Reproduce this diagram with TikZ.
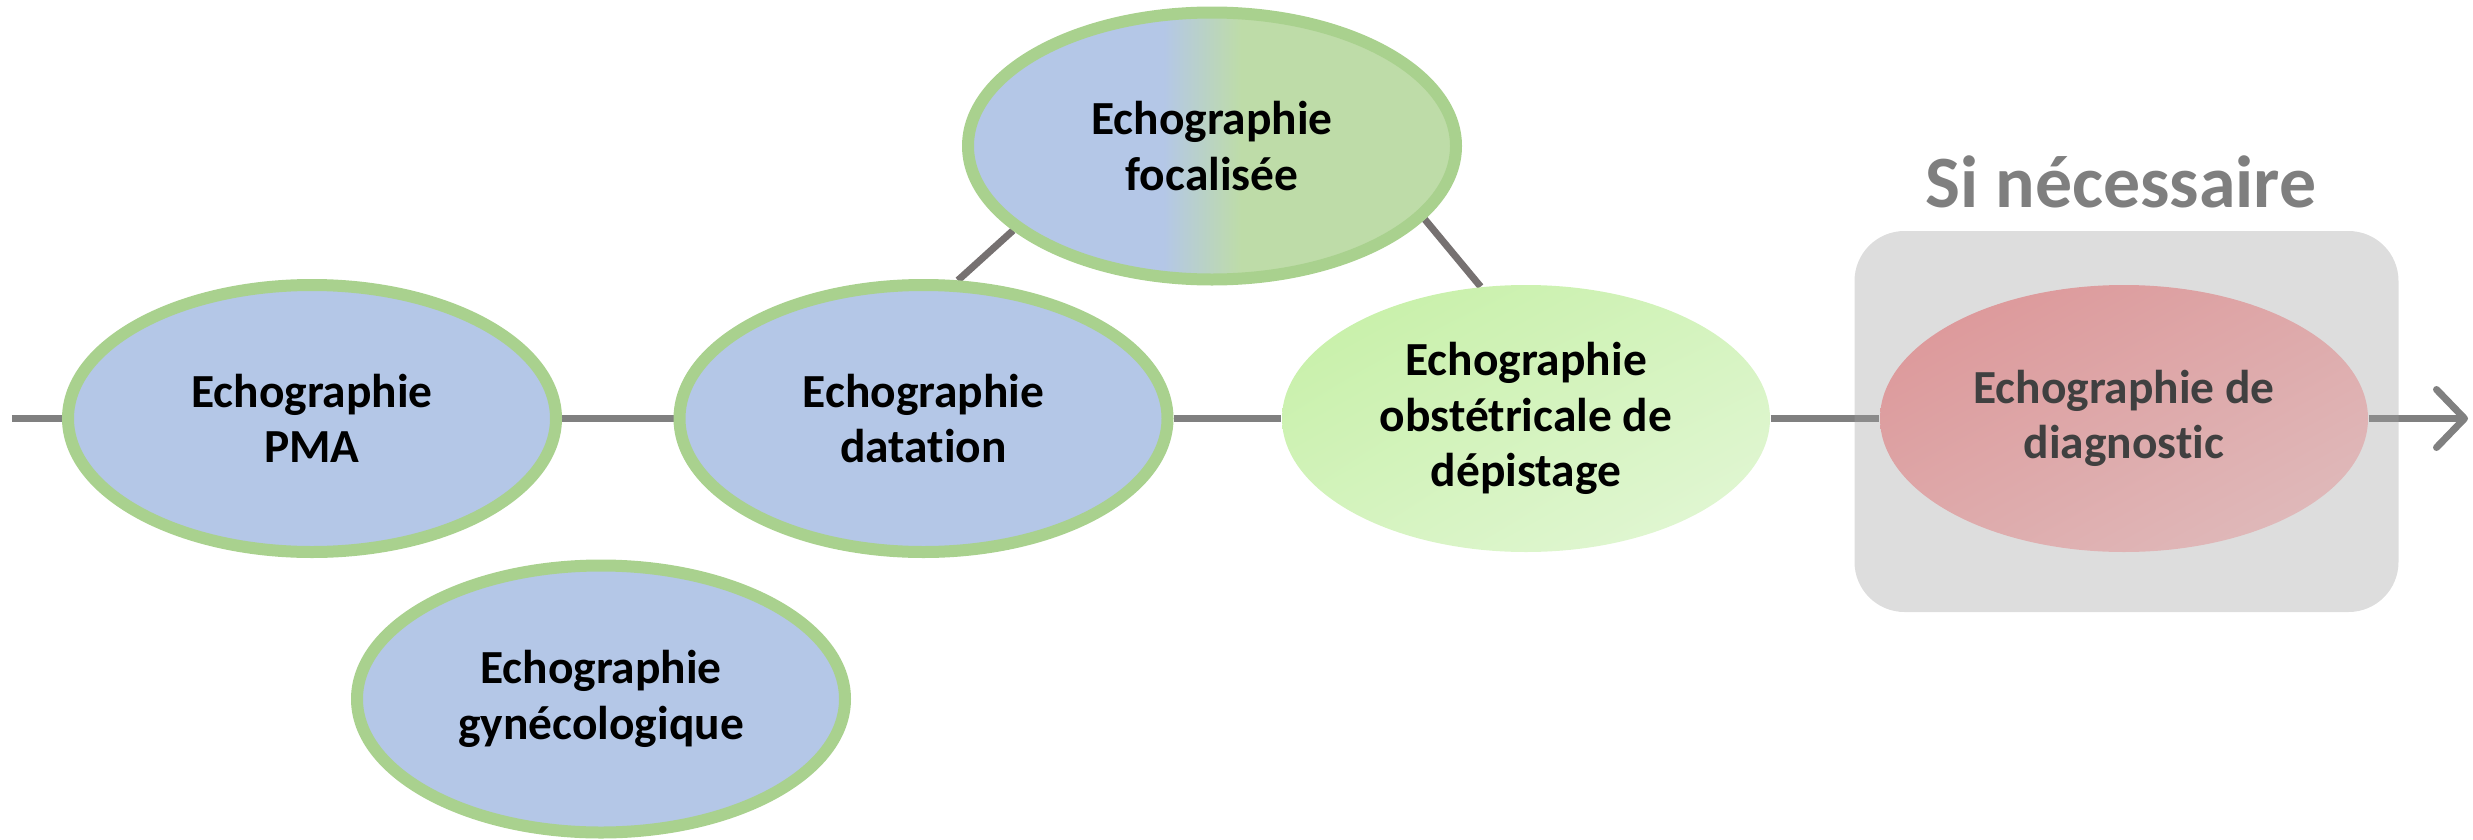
\documentclass[tikz,border=0pt]{standalone}
\usepackage{fontspec}
\setmainfont{Carlito}[Ligatures={NoCommon}]
\usetikzlibrary{shapes.geometric,arrows.meta,shadings}
\definecolor{eblue}{RGB}{180,199,231}
\definecolor{egreen}{RGB}{190,220,168}
\definecolor{eborder}{RGB}{169,209,142}
\definecolor{lgrey}{RGB}{128,128,128}
\definecolor{cgrey}{RGB}{118,113,113}
\definecolor{boxgrey}{RGB}{161,161,161}
\definecolor{diagtext}{RGB}{64,64,64}
\definecolor{sitext}{RGB}{127,127,127}
\definecolor{depA}{RGB}{197,240,164}
\definecolor{depB}{RGB}{228,247,216}
\definecolor{depM}{RGB}{212,243,190}
\definecolor{diaA}{RGB}{220,148,150}
\definecolor{diaB}{RGB}{224,190,191}
\definecolor{diaM}{RGB}{222,169,170}
\pgfdeclarehorizontalshading{focshade}{100bp}{color(0bp)=(eblue); color(45bp)=(eblue); color(53bp)=(egreen); color(100bp)=(egreen)}
\pgfdeclarelayer{lines}
\pgfdeclarelayer{boxl}
\pgfsetlayers{lines,boxl,main}
\tikzset{
  ell/.style={ellipse, minimum width=4.88cm, minimum height=2.67cm, inner sep=0pt,
    align=center, font=\fontsize{13.5}{15.8}\selectfont\bfseries},
  bordered/.style={ell, draw=eborder, line width=0.12cm},
  axisline/.style={draw=lgrey, line width=0.07cm},
  linkline/.style={draw=cgrey, line width=0.07cm},
}
\begin{document}
\begin{tikzpicture}
\useasboundingbox (0,0) rectangle (24.73,8.39);
\node[bordered, fill=eblue] (pma) at (3.12,4.205) {Echographie\\PMA};
\node[bordered, fill=eblue] (dat) at (9.235,4.205) {Echographie\\datation};
\node[bordered, fill=eblue] (gyn) at (6.01,1.40) {Echographie\\gynécologique};
\node[bordered, shading=focshade, shade] (foc) at (12.12,6.93) {Echographie\\focalisée};
\node[ell, upper left=depA, lower right=depB, upper right=depM, lower left=depM] (dep) at (15.26,4.205) {Echographie\\obstétricale de\\dépistage};
\node[ell, text=diagtext, upper left=diaA, lower right=diaB, upper right=diaM, lower left=diaM] (diag) at (21.24,4.205) {Echographie de\\diagnostic};
\node[anchor=base, text=sitext, font=\fontsize{21}{24}\selectfont\bfseries] (si) at (21.21,6.32) {Si nécessaire};
\coordinate (start) at (0.12,4.205);
\coordinate (end) at (24.68,4.205);
\begin{pgfonlayer}{boxl}
\fill[boxgrey, fill opacity=0.36, rounded corners=0.5cm] (18.545,2.27) rectangle (23.985,6.08);
\end{pgfonlayer}
\begin{pgfonlayer}{lines}
\draw[axisline, -{Straight Barb[length=2.8mm, width=5.8mm, round]}] (start) -- (pma) -- (dat) -- (dep) -- (diag) -- (end);
\draw[linkline] (dat.76) -- (foc.203);
\draw[linkline] (foc.341) -- (dep.109);
\end{pgfonlayer}
\end{tikzpicture}
\end{document}
